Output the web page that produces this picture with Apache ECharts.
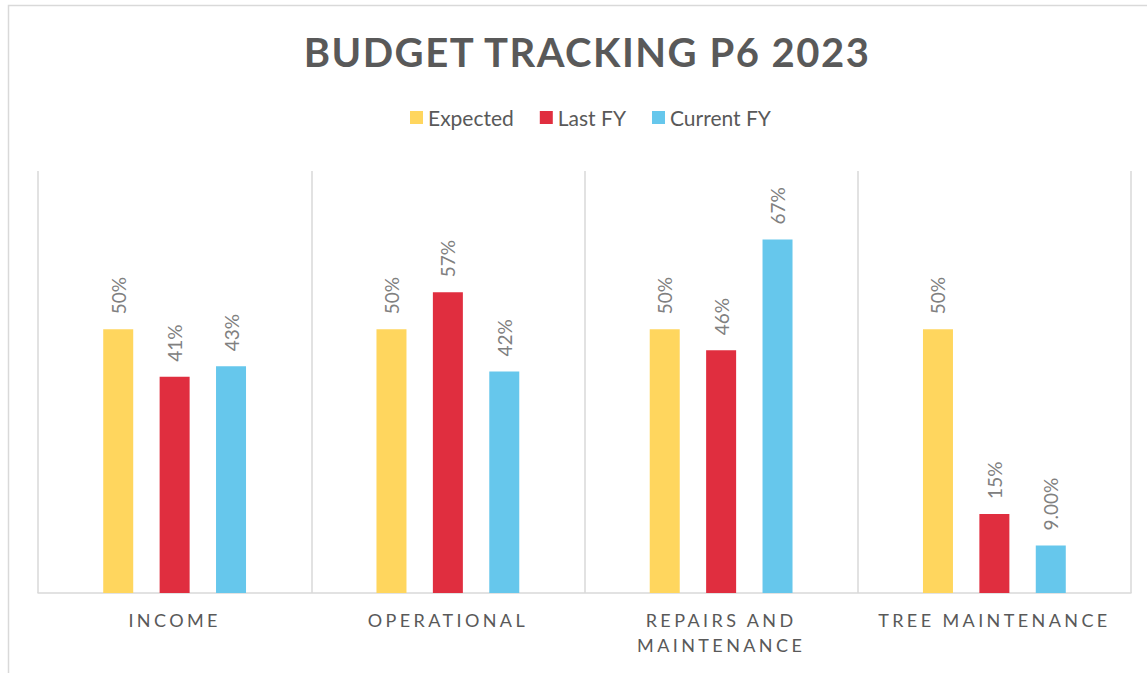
<!DOCTYPE html>
<html>
<head>
<meta charset="utf-8">
<script src="https://cdn.jsdelivr.net/npm/echarts@6/dist/echarts.min.js"></script>
<style>
  html, body { margin: 0; padding: 0; background: #ffffff; }
  #chart { width: 1147px; height: 673px; }
</style>
</head>
<body>
<div id="chart"></div>
<script>
const titleText = 'BUDGET TRACKING P6 2023';
const categories = ['INCOME', 'OPERATIONAL', 'REPAIRS AND MAINTENANCE', 'TREE MAINTENANCE'];
const seriesNames = ['Expected', 'Last FY', 'Current FY'];
const expected = [0.50, 0.50, 0.50, 0.50];
const lastFY = [0.41, 0.57, 0.46, 0.15];
const currentFY = [0.43, 0.42, 0.67, 0.09];
const currentLabelDecimals = [0, 0, 0, 2];

const colors = ['#FFD65E', '#E02E3F', '#66C7EC'];
const gridLine = '#D9D9D9';
const textDark = '#595959';
const FONT = 'Lato';

function pct(v, d) { return (v * 100).toFixed(d || 0) + '%'; }

function labelCfg(decimals) {
  return {
    show: true,
    position: 'top',
    rotate: 90,
    align: 'left',
    verticalAlign: 'middle',
    distance: 15,
    color: '#808080',
    fontFamily: FONT,
    fontSize: 19,
    formatter: p => pct(p.value, decimals ? decimals[p.dataIndex] : 0)
  };
}

const chart = echarts.init(document.getElementById('chart'), null, { renderer: 'svg' });

const dataSets = [expected, lastFY, currentFY];
const series = dataSets.map((d, i) => ({
  name: seriesNames[i],
  type: 'bar',
  data: d,
  barWidth: 30,
  barGap: '88%',
  itemStyle: { color: colors[i] },
  label: labelCfg(i === 2 ? currentLabelDecimals : null)
}));

chart.setOption({
  animation: false,
  backgroundColor: '#ffffff',
  title: {
    text: titleText,
    left: 582,
    textAlign: 'center',
    top: 27,
    textStyle: { fontFamily: FONT, fontWeight: 'bold', fontSize: 40, color: textDark }
  },
  legend: {
    data: seriesNames,
    left: 405,
    top: 102,
    icon: 'rect',
    itemWidth: 13,
    itemHeight: 13,
    itemGap: 26,
    textStyle: { fontFamily: FONT, fontSize: 21, color: textDark }
  },
  graphic: [{
    type: 'rect',
    shape: { x: 8.5, y: 5.5, width: 1400, height: 900 },
    style: { fill: 'none', stroke: gridLine, lineWidth: 1.5 },
    silent: true,
    z: -10
  }],
  grid: { left: 38, right: 16, top: 171, bottom: 80 },
  xAxis: {
    type: 'category',
    data: categories,
    axisLine: { show: true, lineStyle: { color: gridLine, width: 1.5 } },
    axisTick: { show: false },
    splitLine: { show: true, interval: 0, lineStyle: { color: gridLine, width: 1.5 } },
    axisLabel: {
      interval: 0,
      margin: 14,
      color: textDark,
      fontFamily: FONT,
      fontSize: 18,
      lineHeight: 25,
      formatter: v => v.replace('REPAIRS AND ', 'REPAIRS AND\n')
    }
  },
  yAxis: {
    type: 'value',
    min: 0,
    max: 0.8,
    show: false,
    splitLine: { show: false }
  },
  series: series
});

function applySpacing() {
  const texts = document.querySelectorAll('#chart svg text');
  texts.forEach(t => {
    const s = (t.textContent || '').trim();
    if (s === titleText) {
      t.setAttribute('letter-spacing', '1.5');
    } else if (/^[A-Z ]+$/.test(s) && s.length > 0) {
      t.setAttribute('letter-spacing', '3.4');
    }
  });
}
chart.on('finished', applySpacing);
applySpacing();
requestAnimationFrame(applySpacing);
setTimeout(applySpacing, 50);
</script>
</body>
</html>
